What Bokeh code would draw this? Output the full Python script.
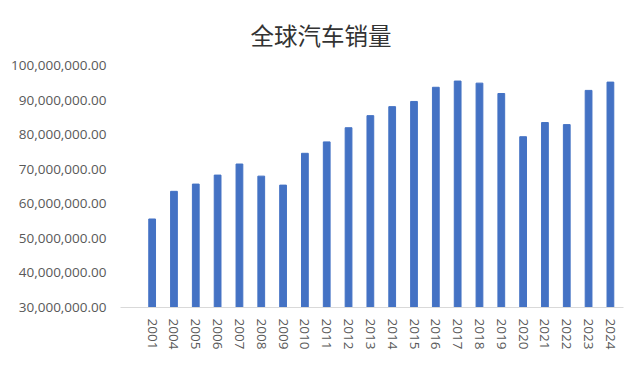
from bokeh.plotting import figure
from bokeh.models import Range1d, FixedTicker, NumeralTickFormatter, ColumnDataSource
from bokeh.embed import file_html
from bokeh.resources import INLINE

years = ["2001", "2004", "2005", "2006", "2007", "2008", "2009", "2010", "2011", "2012", "2013",
         "2014", "2015", "2016", "2017", "2018", "2019", "2020", "2021", "2022", "2023", "2024"]
sales = [55.6e6, 63.6e6, 65.7e6, 68.3e6, 71.5e6, 68.0e6, 65.4e6, 74.6e6, 77.9e6, 82.0e6, 85.5e6,
         88.1e6, 89.6e6, 93.7e6, 95.5e6, 94.9e6, 91.9e6, 79.4e6, 83.5e6, 82.9e6, 92.8e6, 95.2e6]
y_ticks = [30e6, 40e6, 50e6, 60e6, 70e6, 80e6, 90e6, 100e6]
title_text = "全球汽车销量"

idx = list(range(len(years)))
src = ColumnDataSource(dict(x=idx, top=sales))

p = figure(width=632, height=357, output_backend="svg", toolbar_location=None,
           x_range=Range1d(-1.45, 21.6), y_range=Range1d(30e6, 100e6),
           min_border_left=120, min_border_right=9, min_border_top=65, min_border_bottom=50,
           title=title_text)
p.outline_line_color = None
p.background_fill_color = "white"
p.border_fill_color = "white"

p.title.align = "left"
p.title.offset = 130
p.title.text_font = "Noto Sans CJK SC"
p.title.text_font_size = "23.5px"
p.title.text_font_style = "normal"
p.title.text_color = "#333333"
p.title.standoff = 28

p.vbar(x="x", top="top", bottom=30e6, width=0.31, source=src, color="#4472C4")

p.xgrid.visible = False
p.ygrid.visible = False

xa = p.xaxis[0]
xa.ticker = FixedTicker(ticks=idx)
xa.major_label_overrides = {i: y for i, y in zip(idx, years)}
xa.major_label_orientation = "vertical"
xa.axis_line_color = "#d9d9d9"
xa.major_tick_line_color = None
xa.minor_tick_line_color = None
xa.major_label_text_font = "Open Sans"
xa.major_label_text_font_size = "13.5px"
xa.major_label_text_color = "#595959"
xa.major_label_standoff = 5

ya = p.yaxis[0]
ya.ticker = FixedTicker(ticks=y_ticks)
ya.formatter = NumeralTickFormatter(format="0,0.00")
ya.axis_line_color = None
ya.major_tick_line_color = None
ya.minor_tick_line_color = None
ya.major_label_text_font = "Open Sans"
ya.major_label_text_font_size = "13.5px"
ya.major_label_text_color = "#595959"
ya.major_label_standoff = 8

open("out.html", "w").write(file_html(p, INLINE))
